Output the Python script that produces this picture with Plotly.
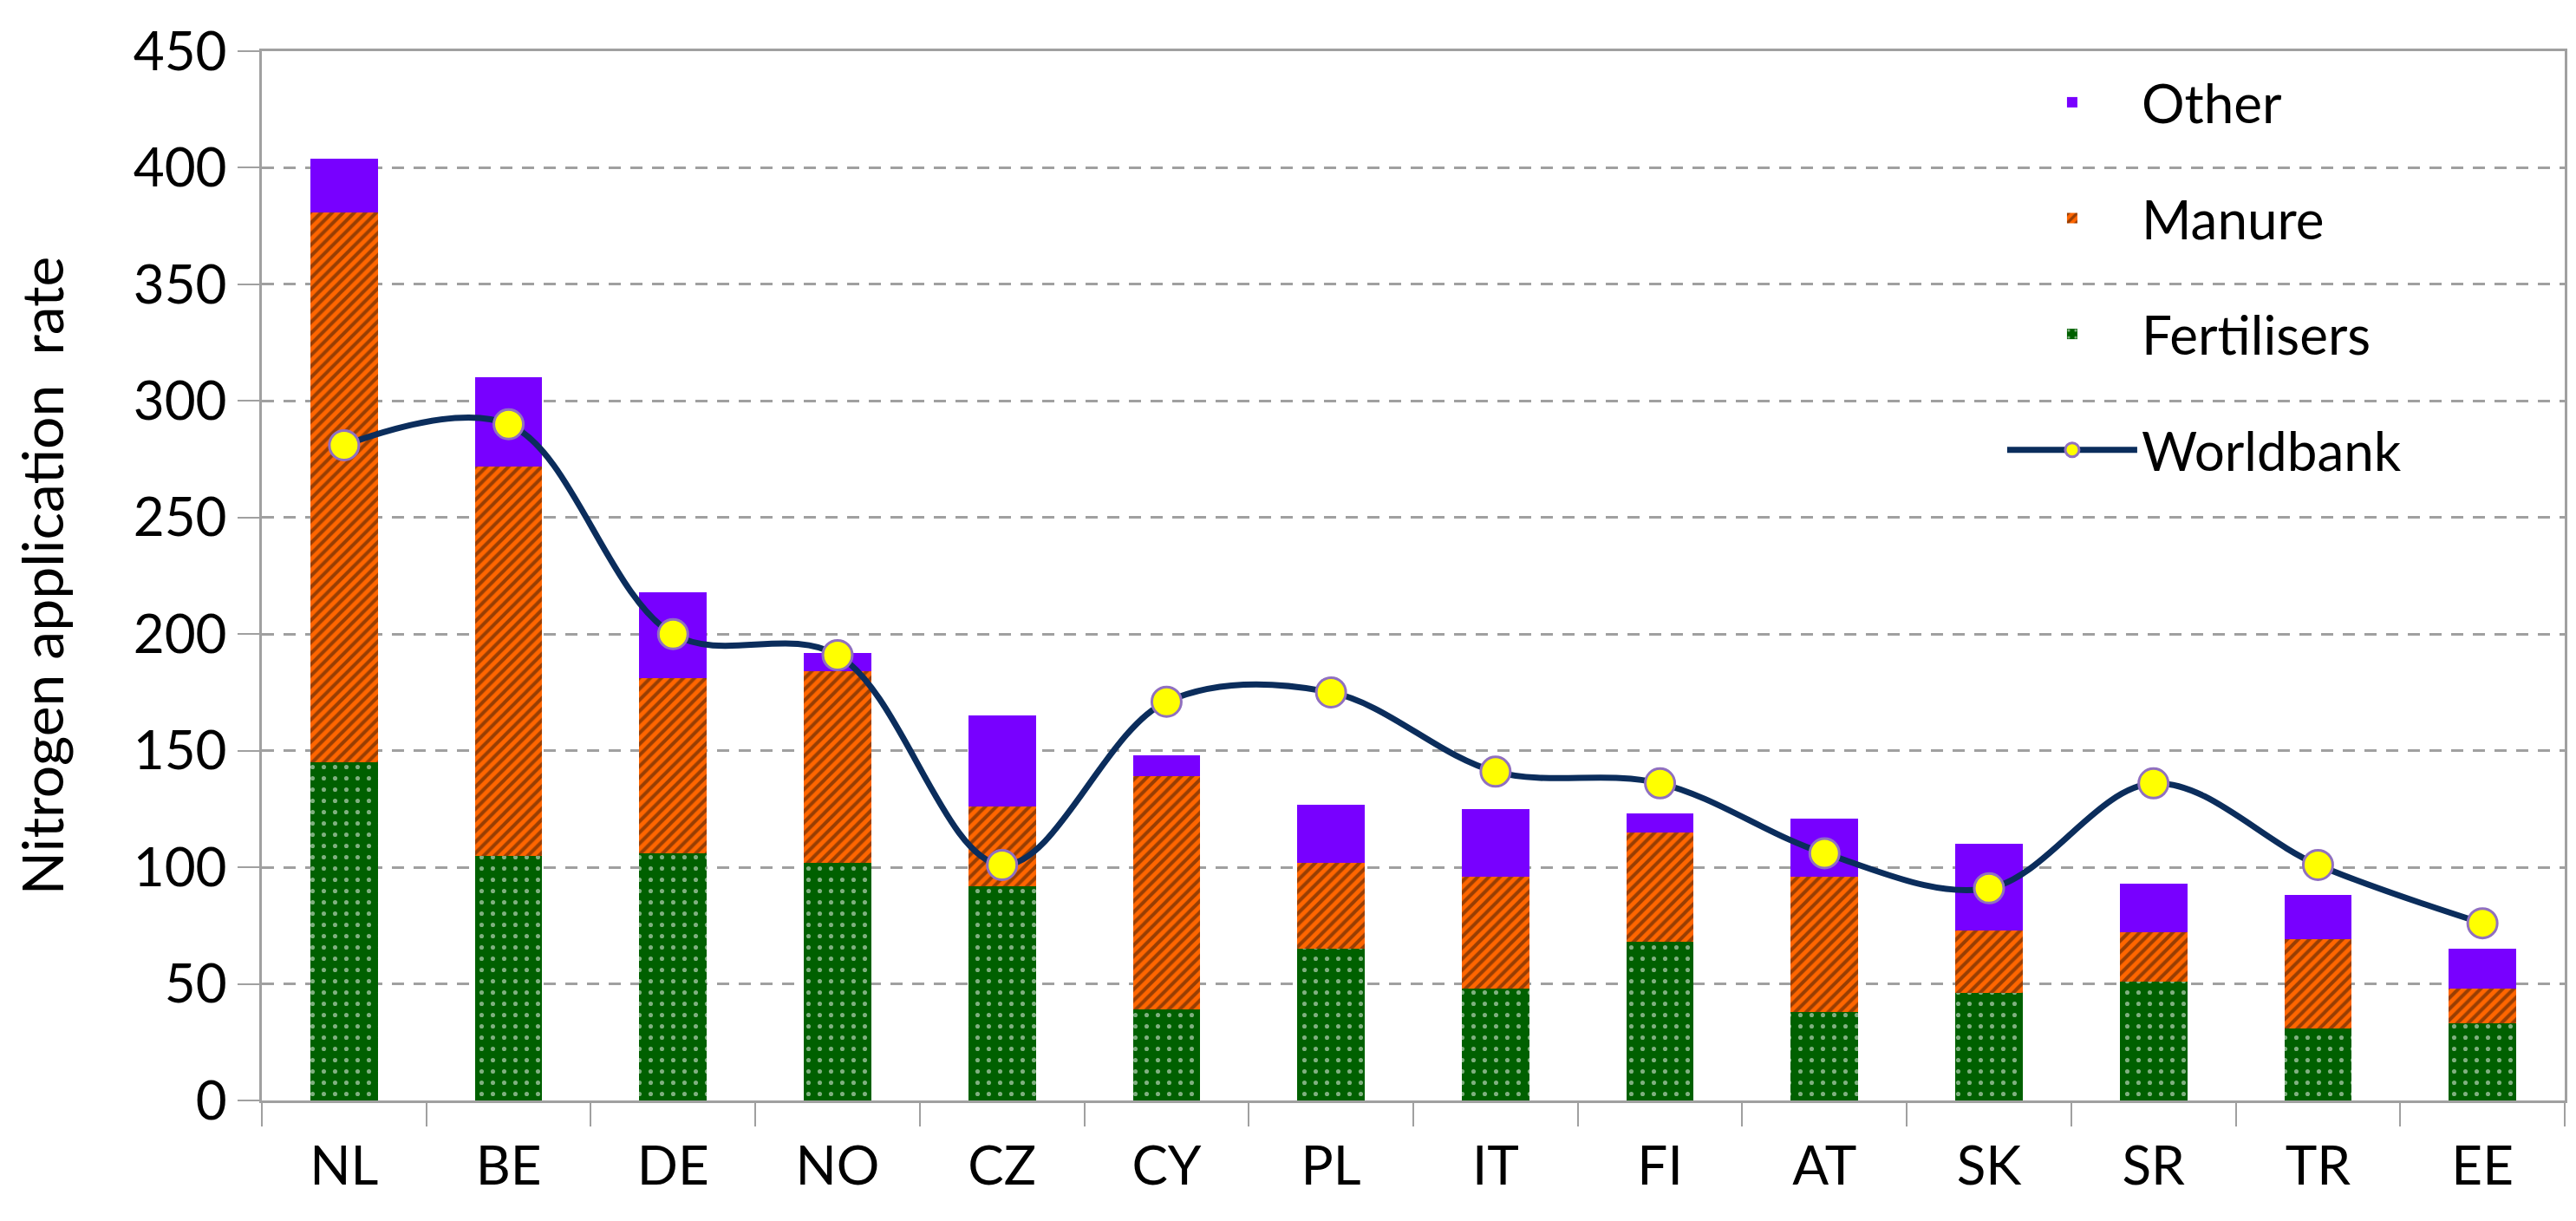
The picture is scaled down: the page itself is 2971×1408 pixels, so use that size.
import plotly.graph_objects as go

countries = ["NL", "BE", "DE", "NO", "CZ", "CY", "PL", "IT", "FI", "AT", "SK", "SR", "TR", "EE"]
fertilisers = [145, 105, 106, 102, 92, 39, 65, 48, 68, 38, 46, 51, 31, 33]
manure = [236, 167, 75, 82, 34, 100, 37, 48, 47, 58, 27, 21, 38, 15]
other = [23, 38, 37, 8, 39, 9, 25, 29, 8, 25, 37, 21, 19, 17]
worldbank = [281, 290, 200, 191, 101, 171, 175, 141, 136, 106, 91, 136, 101, 76]

FONT = "Lato"

# Create figure
fig = go.Figure()

fig.add_trace(go.Bar(
    x=countries, y=fertilisers, name="Fertilisers",
    legendgroup="fert", legendrank=3,
    marker=dict(
        color="#006000",
        line=dict(width=0),
        pattern=dict(shape=".", fgcolor="white", bgcolor="#006000", size=13, solidity=0.12),
    ),
))
fig.add_trace(go.Bar(
    x=countries, y=manure, name="Manure",
    legendgroup="manure", legendrank=2,
    marker=dict(
        color="#FF6600",
        line=dict(width=0),
        pattern=dict(shape="/", fgcolor="#321505", bgcolor="#FF6600", size=9, solidity=0.45),
    ),
))
fig.add_trace(go.Bar(
    x=countries, y=other, name="Other",
    legendgroup="other", legendrank=1,
    marker=dict(color="#7800FF", line=dict(width=0)),
))
fig.add_trace(go.Scatter(
    x=countries, y=worldbank, name="Worldbank",
    legendgroup="wb", legendrank=4,
    mode="lines+markers",
    line=dict(color="#0B2D5C", width=7, shape="spline", smoothing=1),
    marker=dict(color="#FFFF00", size=34, line=dict(color="#9070C0", width=3)),
))

fig.update_layout(
    barmode="stack",
    bargap=0.59,
    width=2971,
    height=1408,
    margin=dict(l=294, r=21, t=44, b=147),
    plot_bgcolor="white",
    paper_bgcolor="white",
    font=dict(family=FONT, size=62, color="black"),
    legend=dict(
        x=0.756, y=0.99, xanchor="left", yanchor="top",
        bgcolor="rgba(0,0,0,0)",
        font=dict(family=FONT, size=62, color="black"),
        tracegroupgap=50,
        itemwidth=150,
    ),
)

# Axes
fig.update_xaxes(
    type="category",
    range=[-0.5, 13.5],
    showline=True, linecolor="#A0A0A0", linewidth=3, mirror=True,
    ticks="outside", tickson="boundaries", ticklen=27, tickwidth=2, tickcolor="#A0A0A0",
    ticklabelstandoff=20,
    showgrid=False,
    tickfont=dict(family=FONT, size=62, color="black"),
)
fig.update_yaxes(
    range=[0, 450], dtick=50,
    showline=True, linecolor="#A0A0A0", linewidth=3, mirror=True,
    ticks="outside", ticklen=25, tickwidth=2, tickcolor="#A0A0A0",
    showgrid=True, gridcolor="#A0A0A0", gridwidth=3, griddash="14px,11px",
    zeroline=False,
    tickfont=dict(family=FONT, size=62, color="black"),
    title=dict(text="Nitrogen application\u00a0 rate", font=dict(family=FONT, size=66, color="black"), standoff=62),
)

fig.write_html("out.html")
